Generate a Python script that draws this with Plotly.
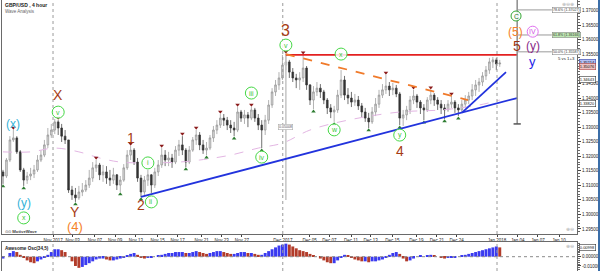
import plotly.graph_objects as go

# ---------------- data (GBP/USD, 8-hour bars) ----------------
first_open = 1.3146
close = [1.3132,1.3187,1.3256,1.3263,1.3215,1.3153,1.3118,1.3132,1.3139,1.3153,
         1.3187,1.3204,1.3239,1.3273,1.3290,1.3318,1.3297,1.3269,1.3256,1.3084,
         1.3067,1.3057,1.3077,1.3084,1.3101,1.3125,1.3160,1.3170,1.3136,1.3146,
         1.3125,1.3118,1.3136,1.3101,1.3118,1.3160,1.3204,1.3221,1.3180,1.3125,
         1.3077,1.3118,1.3136,1.3101,1.3146,1.3170,1.3204,1.3187,1.3194,1.3180,
         1.3221,1.3239,1.3221,1.3180,1.3221,1.3256,1.3273,1.3239,1.3221,1.3228,
         1.3263,1.3290,1.3307,1.3331,1.3324,1.3307,1.3297,1.3290,1.3352,1.3331,
         1.3342,1.3331,1.3359,1.3331,1.3307,1.3290,1.3324,1.3376,1.3421,1.3445,
         1.3469,1.3513,1.3524,1.3489,1.3469,1.3462,1.3469,1.3503,1.3445,1.3393,
         1.3421,1.3434,1.3421,1.3393,1.3366,1.3352,1.3359,1.3410,1.3462,1.3410,
         1.3400,1.3386,1.3393,1.3373,1.3352,1.3331,1.3318,1.3352,1.3379,1.3410,
         1.3428,1.3441,1.3428,1.3434,1.3414,1.3331,1.3342,1.3359,1.3393,1.3407,
         1.3386,1.3366,1.3359,1.3393,1.3410,1.3393,1.3379,1.3366,1.3359,1.3379,
         1.3386,1.3366,1.3359,1.3379,1.3393,1.3407,1.3428,1.3445,1.3455,1.3476,
         1.3496,1.3524,1.3531,1.3517,1.3520]
high = [1.3153,1.3194,1.3269,1.3290,1.3269,1.3221,1.3160,1.3146,1.3160,1.3170,
        1.3204,1.3221,1.3256,1.3297,1.3311,1.3328,1.3324,1.3311,1.3290,1.3256,
        1.3098,1.3091,1.3098,1.3108,1.3118,1.3153,1.3180,1.3187,1.3177,1.3170,
        1.3166,1.3153,1.3160,1.3139,1.3132,1.3173,1.3221,1.3235,1.3228,1.3194,
        1.3136,1.3132,1.3153,1.3139,1.3160,1.3187,1.3228,1.3221,1.3215,1.3208,
        1.3235,1.3256,1.3269,1.3228,1.3235,1.3266,1.3290,1.3283,1.3256,1.3249,
        1.3273,1.3304,1.3324,1.3345,1.3345,1.3335,1.3324,1.3318,1.3369,1.3359,
        1.3359,1.3352,1.3369,1.3366,1.3345,1.3324,1.3342,1.3393,1.3434,1.3462,
        1.3489,1.3548,1.3551,1.3531,1.3503,1.3483,1.3489,1.3548,1.3510,1.3448,
        1.3441,1.3455,1.3448,1.3428,1.3400,1.3379,1.3373,1.3428,1.3496,1.3476,
        1.3434,1.3421,1.3414,1.3407,1.3383,1.3366,1.3349,1.3369,1.3400,1.3428,
        1.3448,1.3479,1.3455,1.3452,1.3445,1.3421,1.3359,1.3373,1.3407,1.3428,
        1.3414,1.3393,1.3379,1.3403,1.3428,1.3417,1.3403,1.3393,1.3379,1.3393,
        1.3407,1.3393,1.3379,1.3393,1.3410,1.3421,1.3448,1.3462,1.3469,1.3489,
        1.3510,1.3538,1.3541,1.3538,1.3531]
low = [1.3105,1.3125,1.3180,1.3249,1.3208,1.3146,1.3098,1.3105,1.3118,1.3125,
       1.3146,1.3180,1.3197,1.3228,1.3263,1.3276,1.3273,1.3249,1.3242,1.3074,
       1.3050,1.3043,1.3050,1.3063,1.3077,1.3091,1.3112,1.3146,1.3118,1.3112,
       1.3105,1.3098,1.3105,1.3084,1.3077,1.3112,1.3153,1.3187,1.3170,1.3112,
       1.3060,1.3063,1.3098,1.3074,1.3091,1.3132,1.3160,1.3166,1.3166,1.3160,
       1.3173,1.3201,1.3204,1.3163,1.3173,1.3215,1.3239,1.3221,1.3208,1.3204,
       1.3221,1.3249,1.3276,1.3297,1.3304,1.3290,1.3280,1.3269,1.3283,1.3318,
       1.3311,1.3300,1.3324,1.3318,1.3290,1.3228,1.3273,1.3311,1.3366,1.3407,
       1.3428,1.3462,1.3496,1.3469,1.3455,1.3434,1.3428,1.3455,1.3428,1.3376,
       1.3362,1.3407,1.3400,1.3379,1.3345,1.3331,1.3318,1.3349,1.3400,1.3393,
       1.3379,1.3369,1.3373,1.3359,1.3335,1.3318,1.3297,1.3311,1.3338,1.3366,
       1.3400,1.3414,1.3407,1.3410,1.3403,1.3307,1.3304,1.3324,1.3345,1.3379,
       1.3366,1.3345,1.3324,1.3352,1.3379,1.3373,1.3359,1.3345,1.3328,1.3352,
       1.3366,1.3349,1.3338,1.3349,1.3366,1.3379,1.3393,1.3407,1.3421,1.3441,
       1.3462,1.3483,1.3503,1.3496,1.3507]
ao = [-0.002,0.000,0.004,0.006,0.005,0.002,-0.001,-0.004,-0.006,-0.007,
      -0.005,-0.003,-0.001,0.002,0.005,0.008,0.008,0.007,0.005,0.000,
      -0.005,-0.010,-0.012,-0.011,-0.009,-0.007,-0.005,-0.003,-0.002,-0.002,
      -0.003,-0.004,-0.004,-0.003,-0.002,-0.001,0.001,0.003,0.004,0.002,
      -0.001,-0.002,-0.001,-0.001,0.000,0.001,0.002,0.003,0.004,0.004,
      0.005,0.005,0.005,0.004,0.004,0.005,0.006,0.005,0.004,0.003,
      0.004,0.005,0.006,0.006,0.005,0.004,0.003,0.003,0.004,0.005,
      0.005,0.004,0.004,0.003,0.002,0.002,0.004,0.006,0.008,0.010,
      0.012,0.013,0.014,0.013,0.011,0.009,0.007,0.006,0.005,0.003,
      0.001,0.000,-0.002,-0.004,-0.006,-0.007,-0.007,-0.004,-0.001,0.002,
      0.001,-0.001,-0.003,-0.004,-0.005,-0.005,-0.006,-0.005,-0.005,-0.004,
      -0.003,-0.001,0.002,0.004,0.005,0.003,-0.002,-0.005,-0.004,-0.002,
      0.000,0.001,0.000,0.001,0.002,0.001,0.000,-0.001,-0.002,-0.001,
      -0.001,-0.001,0.000,0.001,0.002,0.003,0.004,0.005,0.006,0.007,
      0.008,0.009,0.010,0.011,0.010]

# slow moving average (pink dashed) read at a few bars
ma_bars = [0, 8, 15, 22, 28, 34, 43, 51, 57, 66, 74, 81, 89, 100, 115, 127, 138, 144]
ma_vals = [1.3215,1.3215,1.3228,1.3215,1.3194,1.3180,1.3177,1.3180,1.3187,1.3204,
           1.3228,1.3245,1.3290,1.3324,1.3352,1.3359,1.3376,1.3393]

frac_high_bars = [3, 16, 27, 37, 46, 52, 56, 63, 68, 72, 82, 87, 111, 119, 124, 130]
frac_low_bars = [0, 6, 21, 34, 40, 53, 59, 67, 75, 90, 96, 106, 115, 122, 128, 132]

# x axis: trading-day index (Oct 25 2017 = 0)
tick_days = [5, 6.9, 9.05, 11, 13, 15.1, 17.05, 19.35, 21.3, 23.25, 27.2, 29.8, 31.7,
             33.8, 35.7, 37.8, 40.1, 42.1, 44.0, 47.9, 49.9, 51.85, 53.9]
tick_text = ["Nov 2017", "Nov 03", "Nov 07", "Nov 09", "Nov 13", "Nov 15", "Nov 17",
             "Nov 21", "Nov 23", "Nov 27", "Dec 2017", "Dec 05", "Dec 07", "Dec 11",
             "Dec 13", "Dec 15", "Dec 19", "Dec 21", "Dec 24", "Jan 2018", "Jan 04",
             "Jan 07", "Jan 10"]
month_days = [5, 27.2, 47.9]
# 1.35000 is hidden behind the price boxes in the reference
price_ticks = [1.295, 1.300, 1.305, 1.310, 1.315, 1.320, 1.325, 1.330, 1.335, 1.340,
               1.345, 1.355, 1.360, 1.365, 1.370]

# analyst drawings (date index, price)
proj_day = 49.85
fib_levels = [(1.37027, "78.6% (1.37027)", "white"),
              (1.36166, "61.8% (1.36166)", "#bfe8b4"),
              (1.35587, "50.0% (1.35587)", "white")]
orange_end = (45.1, 1.3393)
blue_end = (49.85, 1.3400)
blue2 = [(44.52, 1.3350), (48.77, 1.3489)]
tool_bottom = 1.3311
measure_bottom = 1.3050

# ---------------- helpers ----------------
W, H = 600, 271
ML, MR = 2, 23
PW = W - ML - MR
MAIN_BOT, AO_TOP = 234, 242
FONT = "Liberation Sans, Arial, sans-serif"

def fx(px):
    return (px - ML) / PW

def fy(py):
    return 1 - py / H

n = len(close)
opens = [first_open] + close[:-1]
xday = [i / 3 + 1 / 6 for i in range(n)]

fig = go.Figure()

# pink slow MA
fig.add_trace(go.Scatter(x=[xday[b] for b in ma_bars], y=ma_vals, mode="lines",
                         line=dict(color="#e3b6e3", width=1, dash="dash", shape="spline"),
                         hoverinfo="skip", xaxis="x", yaxis="y"))

fig.add_trace(go.Candlestick(
    x=xday, open=opens, high=high, low=low, close=close,
    increasing=dict(line=dict(color="#909090", width=0.7), fillcolor="#dadada"),
    decreasing=dict(line=dict(color="#333333", width=0.7), fillcolor="#333333"),
    whiskerwidth=0, hoverinfo="skip", xaxis="x", yaxis="y"))

# fractal markers
fig.add_trace(go.Scatter(x=[xday[b] for b in frac_high_bars],
                         y=[high[b] + 0.0008 for b in frac_high_bars], mode="markers",
                         marker=dict(symbol="triangle-down", size=4, color="#8b1c1c"),
                         hoverinfo="skip", xaxis="x", yaxis="y"))
fig.add_trace(go.Scatter(x=[xday[b] for b in frac_low_bars],
                         y=[low[b] - 0.0008 for b in frac_low_bars], mode="markers",
                         marker=dict(symbol="triangle-up", size=4, color="#2e7d32"),
                         hoverinfo="skip", xaxis="x", yaxis="y"))

# awesome oscillator
ao_colors = ["#3a3af0" if (i == 0 or ao[i] >= ao[i - 1]) else "#b23c2a" for i in range(n)]
fig.add_trace(go.Bar(x=xday, y=ao, marker=dict(color=ao_colors, line=dict(width=0)),
                     hoverinfo="skip", xaxis="x2", yaxis="y2"))

shapes = []
# month separators
for d in month_days:
    for yr in ("y domain", "y2 domain"):
        shapes.append(dict(type="line", xref="x", yref=yr, x0=d, x1=d, y0=0, y1=1,
                           line=dict(color="#9a9a9a", width=1, dash="dot")))
# AO zero line
shapes.append(dict(type="line", xref="x domain", yref="y2", x0=0, x1=1, y0=0, y1=0,
                   line=dict(color="#8a8a8a", width=1, dash="dot")))
# measurement line from wave-3 top
shapes.append(dict(type="line", xref="x", yref="y", x0=xday[82], x1=xday[82],
                   y0=high[82], y1=measure_bottom, line=dict(color="#c4c4c4", width=1.5)))
# red horizontal resistance
shapes.append(dict(type="line", xref="x", yref="y", x0=xday[82], x1=proj_day,
                   y0=high[82] - 0.0003, y1=high[82] - 0.0003, line=dict(color="#e32020", width=1.8)))
# orange dashed trend line
shapes.append(dict(type="line", xref="x", yref="y", x0=xday[82], y0=high[82],
                   x1=orange_end[0], y1=orange_end[1],
                   line=dict(color="#f07a2a", width=1.8, dash="dash")))
# blue support lines
shapes.append(dict(type="line", xref="x", yref="y", x0=xday[40], y0=low[40],
                   x1=blue_end[0], y1=blue_end[1], line=dict(color="#2233dd", width=1.8)))
shapes.append(dict(type="line", xref="x", yref="y", x0=blue2[0][0], y0=blue2[0][1],
                   x1=blue2[1][0], y1=blue2[1][1], line=dict(color="#2233dd", width=1.8)))
# projection tool vertical + T
shapes.append(dict(type="line", xref="x", yref="y", x0=proj_day, x1=proj_day,
                   y0=1.3737, y1=tool_bottom, line=dict(color="#8c8c8c", width=1.5)))
shapes.append(dict(type="line", xref="x", yref="y", x0=proj_day - 0.35, x1=proj_day + 0.35,
                   y0=tool_bottom, y1=tool_bottom, line=dict(color="#555", width=1.5)))
for lvl, _, _ in fib_levels:
    shapes.append(dict(type="line", xref="x", yref="y", x0=proj_day, x1=53.2,
                       y0=lvl, y1=lvl, line=dict(color="#9a9a9a", width=1)))
# right window edge
shapes.append(dict(type="rect", xref="paper", yref="paper", x0=fx(598), x1=fx(600),
                   y0=0, y1=1, line=dict(width=0), fillcolor="#3b6ea8"))

annotations = []

def txt(x, y, text, color, size, xref="x", yref="y", yshift=0, xanchor="center",
        bold=False, **kw):
    annotations.append(dict(x=x, y=y, xref=xref, yref=yref, text=("<b>%s</b>" % text) if bold else text,
                            showarrow=False, yshift=yshift, xanchor=xanchor, yanchor="middle",
                            font=dict(family=FONT, size=size, color=color), **kw))

def circ(x, y, dy, r, color):
    shapes.append(dict(type="circle", xref="x", yref="y", xsizemode="pixel", ysizemode="pixel",
                       xanchor=x, yanchor=y, x0=-r, x1=r, y0=dy - r, y1=dy + r,
                       line=dict(color=color, width=1), fillcolor="rgba(255,255,255,0.85)"))

GREEN = "#45d845"
BROWN = "#a63c14"
CYAN = "#35b2d8"
ORANGE = "#f5832a"

# (bar, anchor, dy, text, style)
wave_labels = [
    (16, "H", 8, "v", "g"), (6, "L", -32, "x", "g"), (42, "H", 7, "i", "g"),
    (43, "L", -9, "ii", "g"), (72, "H", 14, "iii", "g"), (75, "L", -9, "iv", "g"),
    (82, "H", 9, "v", "g"), (96, "L", -8, "w", "g"), (98, "H", 16, "x", "g"),
    (115, "L", -10, "y", "g"),
    (16, "H", 25, "X", "b"), (21, "L", -10, "Y", "b"), (37, "H", 8, "1", "b"),
    (40, "L", -8, "2", "b"), (82, "H", 24, "3", "b3"), (115, "L", -26, "4", "b"),
    (3, "H", 6, "(x)", "c"), (6, "L", -17, "(y)", "c"), (21, "L", -25, "(4)", "o"),
]
for b, a, dy, t, st in wave_labels:
    yv = high[b] if a == "H" else low[b]
    if st == "g":
        circ(xday[b], yv, dy, 6, GREEN)
        txt(xday[b], yv, t, "#3cc83c", 7, yshift=dy)
    elif st == "b":
        txt(xday[b], yv, t, BROWN, 14, yshift=dy)
    elif st == "b3":
        txt(xday[b], yv, t, BROWN, 16, yshift=dy)
    elif st == "c":
        txt(xday[b], yv, t, CYAN, 12, yshift=dy)
    elif st == "o":
        txt(xday[b], yv, t, ORANGE, 13, yshift=dy)

# projected labels at the right
circ(49.74, 1.36818, 0, 5, "#34a834")
txt(49.74, 1.36818, "C", "#1f7a1f", 7)
txt(49.64, 1.36260, "(5)", ORANGE, 12)
circ(51.35, 1.36279, 0, 5.5, "#e070f0")
txt(51.35, 1.36279, "IV", "#d050e0", 7)
txt(49.8, 1.35780, "5", "#9a3412", 14)
txt(51.4, 1.35780, "(y)", "#8a2a8a", 12)
txt(51.35, 1.35248, "y", "#2424e8", 13)

# fib labels
for lvl, lab, bg in fib_levels:
    annotations.append(dict(x=53.2, y=lvl, xref="x", yref="y", text=lab, showarrow=False,
                            xanchor="left", yanchor="middle", bgcolor=bg, bordercolor="#8a8a8a",
                            borderwidth=0.6, borderpad=0.5,
                            font=dict(family=FONT, size=3.6, color="#333")))
txt(fx(577), fy(58.5), "5 vs 1+3", "#222", 4.3, xref="paper", yref="paper", xanchor="right")

# measurement box
annotations.append(dict(x=xday[82], y=(high[82] + measure_bottom) / 2, xref="x", yref="y",
                        text="0.05008", showarrow=False, bgcolor="white", bordercolor="#aaa",
                        borderwidth=0.6, borderpad=0.5, font=dict(family=FONT, size=3.6, color="#555")))

# price boxes on the axis
axis_boxes = [(1.35214, "1.35214", "#b6c0f4", "#3344aa"),
              (1.35076, "1.35076", "#efc2c2", "#aa4444"),
              (1.34643, "1.34643", "white", "#333333"),
              (1.33820, "1.33820", "white", "#333333")]
for v, t, bg, bc in axis_boxes:
    annotations.append(dict(x=1, y=v, xref="paper", yref="y", text=t, showarrow=False,
                            xanchor="left", yanchor="middle", xshift=2, bgcolor=bg, bordercolor=bc,
                            borderwidth=0.6, borderpad=0.2, font=dict(family=FONT, size=4.0, color="#111")))
annotations.append(dict(x=1, y=0.0100, xref="paper", yref="y2", text="0.00998", showarrow=False,
                        xanchor="left", yanchor="middle", xshift=2, bgcolor="white", bordercolor="#333",
                        borderwidth=0.6, borderpad=0.2, font=dict(family=FONT, size=4.0, color="#111")))

# header / footer texts
txt(fx(3), fy(5), "GBP/USD , 4 hour", "#222", 5, xref="paper", yref="paper", xanchor="left", bold=True)
txt(fx(3), fy(11.5), "Wave Analysis", "#666", 4.5, xref="paper", yref="paper", xanchor="left")
txt(fx(3), fy(231), "⊙⊙ <b>MotiveWave</b>", "#444", 4.3, xref="paper", yref="paper", xanchor="left")
txt(fx(3), fy(248), "Awesome Osc(34,5)", "#222", 4.6, xref="paper", yref="paper", xanchor="left", bold=True)
txt(fx(576), fy(4), "⊕⊖⊕", "#b0b0b0", 5, xref="paper", yref="paper", xanchor="right")
txt(fx(576), fy(229), "⊕⊖", "#b0b0b0", 5, xref="paper", yref="paper", xanchor="right")
txt(fx(576), fy(246), "⊕⊖", "#b0b0b0", 5, xref="paper", yref="paper", xanchor="right")

axis_common = dict(showgrid=False, zeroline=False, showline=True, linecolor="#6a6a6a",
                   linewidth=1, mirror=True, fixedrange=True)

fig.update_layout(
    width=W, height=H, margin=dict(l=ML, r=MR, t=0, b=0),
    paper_bgcolor="white", plot_bgcolor="white", showlegend=False, bargap=0.15,
    font=dict(family=FONT, size=5, color="#222"),
    xaxis=dict(domain=[0, 1], anchor="y", range=[0.07, 55.63], tickvals=tick_days,
               ticktext=tick_text, tickfont=dict(size=4.5, color="#222"), ticks="outside",
               ticklen=2, tickcolor="#444", rangeslider=dict(visible=False), **axis_common),
    yaxis=dict(domain=[fy(MAIN_BOT), 1], anchor="x", side="right", range=[1.29328, 1.37368],
               tickvals=price_ticks, ticktext=["%.5f" % v for v in price_ticks],
               tickfont=dict(size=4.5, color="#222"), ticks="outside", ticklen=3, tickcolor="#444",
               minor=dict(dtick=0.001, tick0=1.29, ticks="outside", ticklen=1.5, tickcolor="#666"),
               **axis_common),
    xaxis2=dict(domain=[0, 1], anchor="y2", matches="x", showticklabels=False, ticks="", **axis_common),
    yaxis2=dict(domain=[0, fy(AO_TOP)], anchor="x2", side="right", range=[-0.0154, 0.0158],
                tickvals=[-0.01, 0.0], ticktext=["-0.01000", "0.00000"],
                tickfont=dict(size=4.5, color="#222"), ticks="outside", ticklen=3, tickcolor="#444",
                minor=dict(dtick=0.002, ticks="outside", ticklen=1.5, tickcolor="#666"),
                **axis_common),
    shapes=shapes, annotations=annotations,
)

fig.write_html("out.html")
